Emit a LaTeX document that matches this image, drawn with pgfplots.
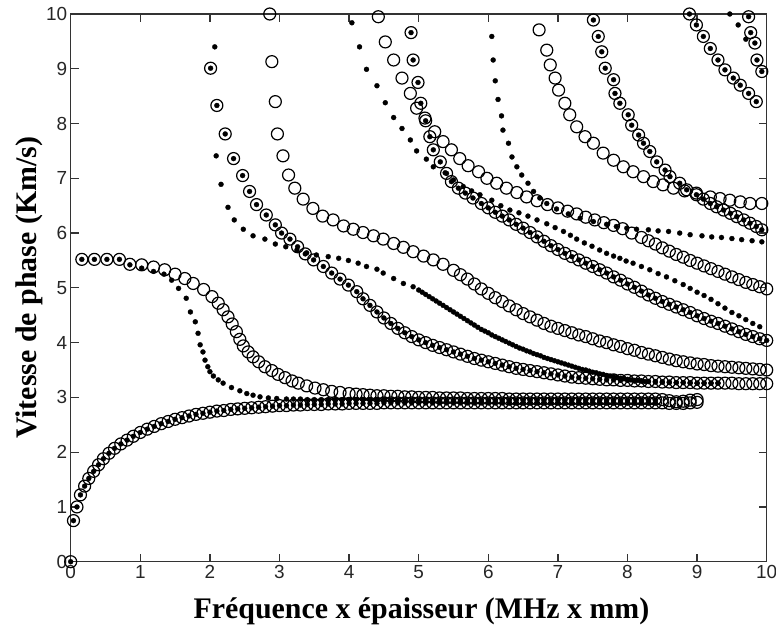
\documentclass[border=0pt]{standalone}
\usepackage{pgfplots}
\pgfplotsset{compat=1.18}
\usepackage{pgfplotstable}
\usepackage{fontspec}
\setmainfont{Liberation Serif}
\newfontfamily\ticksf{Liberation Sans}
\usetikzlibrary{calc}

% A0 (circles to 9.0, dots to 8.4)
\pgfplotstableread{
x y
0 0
0.04 0.75
0.09 1.00
0.14 1.22
0.20 1.38
0.26 1.52
0.33 1.65
0.40 1.77
0.47 1.88
0.55 1.98
0.63 2.07
0.72 2.15
0.81 2.22
0.90 2.29
1.00 2.36
1.10 2.42
1.20 2.47
1.30 2.52
1.40 2.56
1.50 2.60
1.60 2.63
1.70 2.66
1.80 2.69
1.90 2.71
2.00 2.73
2.10 2.75
2.20 2.76
2.30 2.78
2.40 2.79
2.50 2.80
2.60 2.81
2.70 2.82
2.80 2.83
2.90 2.84
3.00 2.85
3.10 2.85
3.20 2.86
3.30 2.86
3.40 2.87
3.50 2.87
3.60 2.87
3.70 2.88
3.80 2.88
3.90 2.88
4.00 2.89
4.10 2.89
4.20 2.89
4.30 2.89
4.40 2.89
4.50 2.90
4.60 2.90
4.70 2.90
4.80 2.90
4.90 2.90
5.00 2.90
5.10 2.90
5.20 2.90
5.30 2.90
5.40 2.90
5.50 2.90
5.60 2.90
5.70 2.90
5.80 2.90
5.90 2.90
6.00 2.90
6.10 2.90
6.20 2.90
6.30 2.90
6.40 2.90
6.50 2.90
6.60 2.90
6.70 2.90
6.80 2.90
6.90 2.90
7.00 2.90
7.10 2.90
7.20 2.90
7.30 2.90
7.40 2.90
7.50 2.90
7.60 2.90
7.70 2.90
7.80 2.90
7.90 2.90
8.00 2.90
8.10 2.90
8.20 2.90
8.30 2.90
8.40 2.90
}\AzeroD
\pgfplotstableread{
x y
8.50 2.90
8.60 2.89
8.70 2.89
8.80 2.89
8.90 2.90
9.00 2.91
}\AzeroC

% S0 circles
\pgfplotstableread{
x y
0.16 5.52
0.34 5.52
0.52 5.52
0.70 5.52
0.85 5.43
1.02 5.42
1.19 5.38
1.35 5.33
1.50 5.25
1.64 5.17
1.76 5.08
1.91 4.97
2.03 4.84
2.12 4.72
2.19 4.60
2.26 4.47
2.32 4.34
2.38 4.20
2.43 4.06
2.48 3.94
2.55 3.83
2.62 3.74
2.70 3.65
2.79 3.56
2.89 3.49
2.98 3.42
3.08 3.36
3.18 3.30
3.27 3.26
3.39 3.21
3.51 3.17
3.63 3.14
3.75 3.11
3.87 3.09
4.00 3.07
4.10 3.06
4.20 3.05
4.30 3.04
4.40 3.03
4.50 3.03
4.60 3.02
4.70 3.02
4.80 3.01
4.90 3.01
5.00 3.00
5.10 3.00
5.20 3.00
5.30 2.99
5.40 2.99
5.50 2.99
5.60 2.99
5.70 2.98
5.80 2.98
5.90 2.98
6.00 2.98
6.10 2.98
6.20 2.98
6.30 2.97
6.40 2.97
6.50 2.97
6.60 2.97
6.70 2.97
6.80 2.97
6.90 2.97
7.00 2.97
7.10 2.97
7.20 2.97
7.30 2.97
7.40 2.97
7.50 2.97
7.60 2.97
7.70 2.97
7.80 2.97
7.90 2.97
8.00 2.97
8.10 2.97
8.20 2.97
8.30 2.97
8.40 2.97
8.50 2.96
8.60 2.94
8.70 2.92
8.80 2.93
8.90 2.95
9.00 2.96
}\SzeroC

% S0 dots
\pgfplotstableread{
x y
0.16 5.52
0.34 5.52
0.52 5.52
0.70 5.52
0.85 5.42
1.02 5.36
1.19 5.30
1.34 5.25
1.45 5.14
1.55 4.99
1.66 4.81
1.72 4.56
1.79 4.38
1.83 4.17
1.86 3.96
1.90 3.83
1.93 3.68
1.97 3.56
2.00 3.47
2.05 3.39
2.12 3.32
2.19 3.26
2.31 3.18
2.43 3.12
2.53 3.07
2.62 3.04
2.72 3.01
2.84 2.99
2.96 2.98
3.10 2.97
3.20 2.97
3.30 2.97
3.40 2.96
3.50 2.96
3.60 2.96
3.70 2.96
3.80 2.96
3.90 2.96
4.00 2.96
4.10 2.96
4.20 2.96
4.30 2.96
4.40 2.96
4.50 2.96
4.60 2.95
4.70 2.95
4.80 2.95
4.90 2.95
5.00 2.95
5.10 2.95
5.20 2.95
5.30 2.95
5.40 2.95
5.50 2.95
5.60 2.95
5.70 2.95
5.80 2.95
5.90 2.95
6.00 2.95
6.10 2.95
6.20 2.95
6.30 2.95
6.40 2.95
6.50 2.95
6.60 2.95
6.70 2.95
6.80 2.95
6.90 2.95
7.00 2.95
7.10 2.95
7.20 2.95
7.30 2.95
7.40 2.95
7.50 2.95
7.60 2.95
7.70 2.95
7.80 2.95
7.90 2.95
8.00 2.95
8.10 2.95
8.20 2.95
8.30 2.95
8.40 2.95
}\SzeroD

% A1 (circles and dots), dots to 9.3
\pgfplotstableread{
x y
2.01 9.01
2.10 8.33
2.22 7.81
2.34 7.36
2.47 7.05
2.57 6.76
2.67 6.52
2.81 6.33
2.94 6.15
3.03 6.00
3.15 5.89
3.26 5.75
3.37 5.62
3.49 5.51
3.63 5.39
3.75 5.27
3.87 5.16
3.99 5.05
4.11 4.93
4.20 4.80
4.30 4.68
4.40 4.56
4.50 4.45
4.60 4.35
4.70 4.26
4.80 4.18
4.90 4.11
5.00 4.05
5.10 4.00
5.20 3.95
5.30 3.91
5.40 3.87
5.50 3.83
5.60 3.79
5.70 3.75
5.80 3.71
5.90 3.68
6.00 3.65
6.10 3.62
6.20 3.59
6.30 3.56
6.40 3.53
6.50 3.51
6.60 3.49
6.70 3.47
6.80 3.45
6.90 3.43
7.00 3.41
7.10 3.39
7.20 3.37
7.30 3.36
7.40 3.35
7.50 3.34
7.60 3.33
7.70 3.32
7.80 3.32
7.90 3.31
8.00 3.31
8.10 3.30
8.20 3.30
8.30 3.29
8.40 3.29
8.50 3.28
8.60 3.28
8.70 3.27
8.80 3.27
8.90 3.27
9.00 3.26
9.10 3.26
9.20 3.26
9.30 3.26
}\AoneD
\pgfplotstableread{
x y
9.40 3.26
9.50 3.26
9.60 3.25
9.70 3.25
9.80 3.25
9.90 3.25
10.00 3.25
}\AoneC

% S1 dots
\pgfplotstableread{
x y
2.07 9.40
2.09 7.41
2.16 6.89
2.26 6.47
2.35 6.24
2.48 6.07
2.62 5.95
2.79 5.89
2.94 5.80
3.09 5.75
3.25 5.69
3.39 5.64
3.53 5.60
3.70 5.57
3.85 5.54
3.99 5.50
4.13 5.45
4.25 5.39
4.40 5.34
4.49 5.27
4.64 5.17
4.78 5.08
4.92 5.02
5.00 4.96
5.05 4.92
5.10 4.88
5.15 4.84
5.20 4.80
5.25 4.76
5.30 4.72
5.35 4.68
5.40 4.64
5.45 4.60
5.50 4.56
5.55 4.52
5.60 4.48
5.65 4.44
5.70 4.40
5.75 4.36
5.80 4.32
5.85 4.28
5.90 4.24
5.95 4.21
6.00 4.18
6.05 4.14
6.10 4.11
6.15 4.08
6.20 4.05
6.25 4.02
6.30 3.99
6.35 3.96
6.40 3.93
6.45 3.90
6.50 3.88
6.55 3.85
6.60 3.83
6.65 3.80
6.70 3.78
6.75 3.76
6.80 3.73
6.85 3.71
6.90 3.69
6.95 3.67
7.00 3.65
7.05 3.63
7.10 3.61
7.15 3.59
7.20 3.57
7.25 3.55
7.30 3.53
7.35 3.51
7.40 3.50
7.45 3.48
7.50 3.46
7.55 3.45
7.60 3.43
7.65 3.42
7.70 3.40
7.75 3.39
7.80 3.38
7.85 3.36
7.90 3.35
7.95 3.34
8.00 3.33
8.05 3.32
8.10 3.31
8.15 3.31
8.20 3.30
8.25 3.29
8.30 3.29
8.40 3.28
8.50 3.28
8.60 3.27
8.70 3.27
8.80 3.27
8.90 3.26
9.00 3.26
9.10 3.26
9.20 3.26
9.30 3.26
}\SoneD

% circles from (2.86,10) to (10,3.5)
\pgfplotstableread{
x y
2.86 10.00
2.89 9.13
2.94 8.40
2.97 7.81
3.05 7.41
3.13 7.06
3.22 6.82
3.34 6.62
3.48 6.45
3.62 6.31
3.77 6.24
3.92 6.13
4.06 6.07
4.20 6.01
4.35 5.95
4.49 5.89
4.64 5.81
4.78 5.74
4.92 5.66
5.07 5.58
5.21 5.51
5.35 5.43
5.50 5.32
5.60 5.24
5.70 5.16
5.80 5.07
5.90 4.98
6.00 4.90
6.10 4.82
6.20 4.75
6.30 4.67
6.40 4.60
6.50 4.53
6.60 4.47
6.70 4.41
6.80 4.35
6.90 4.30
7.00 4.26
7.10 4.22
7.20 4.18
7.30 4.14
7.40 4.11
7.50 4.07
7.60 4.03
7.70 4.00
7.80 3.96
7.90 3.93
8.00 3.89
8.10 3.86
8.20 3.82
8.30 3.79
8.40 3.76
8.50 3.73
8.60 3.70
8.70 3.67
8.80 3.65
8.90 3.63
9.00 3.61
9.10 3.60
9.20 3.58
9.30 3.57
9.40 3.56
9.50 3.55
9.60 3.54
9.70 3.53
9.80 3.52
9.90 3.51
10.00 3.50
}\SoneC

% circles from (4.42,9.95) to (10,4.98)
\pgfplotstableread{
x y
4.42 9.95
4.52 9.49
4.64 9.16
4.76 8.83
4.88 8.55
4.97 8.28
5.09 8.10
5.23 7.85
5.35 7.67
5.47 7.52
5.59 7.36
5.71 7.23
5.86 7.12
5.98 7.00
6.12 6.91
6.26 6.82
6.41 6.74
6.55 6.66
6.70 6.59
6.85 6.52
7.00 6.46
7.14 6.40
7.27 6.35
7.40 6.29
7.53 6.24
7.66 6.19
7.80 6.14
7.93 6.08
8.06 6.00
8.20 5.92
8.30 5.86
8.40 5.80
8.50 5.73
8.60 5.67
8.70 5.61
8.80 5.56
8.90 5.50
9.00 5.45
9.10 5.40
9.20 5.35
9.30 5.30
9.40 5.25
9.50 5.20
9.60 5.15
9.70 5.10
9.80 5.06
9.90 5.02
10.00 4.98
}\StwoC

% dots from (6.05,9.59) to (10,5.84)
\pgfplotstableread{
x y
6.05 9.59
6.07 9.16
6.10 8.78
6.14 8.44
6.19 8.14
6.21 7.88
6.29 7.64
6.34 7.39
6.41 7.21
6.48 7.06
6.57 6.91
6.65 6.76
6.74 6.64
6.84 6.54
6.98 6.44
7.15 6.35
7.32 6.27
7.51 6.21
7.70 6.16
7.84 6.12
7.99 6.09
8.13 6.07
8.30 6.06
8.44 6.04
8.59 6.03
8.75 6.00
8.90 5.97
9.07 5.95
9.21 5.93
9.35 5.92
9.50 5.90
9.64 5.88
9.79 5.86
9.93 5.84
}\SixD

% dots from (4.04,9.84) to (10,4.29)
\pgfplotstableread{
x y
4.04 9.84
4.15 9.40
4.25 8.99
4.40 8.69
4.52 8.38
4.64 8.11
4.76 7.91
4.88 7.70
4.97 7.50
5.11 7.35
5.21 7.21
5.38 7.10
5.50 6.97
5.64 6.85
5.76 6.77
5.88 6.70
6.05 6.60
6.18 6.50
6.31 6.42
6.44 6.37
6.57 6.31
6.70 6.24
6.84 6.17
6.96 6.10
7.08 6.03
7.18 5.96
7.27 5.89
7.38 5.82
7.49 5.76
7.60 5.69
7.70 5.63
7.80 5.58
7.89 5.54
7.98 5.49
8.08 5.45
8.20 5.39
8.32 5.33
8.44 5.26
8.56 5.20
8.68 5.13
8.80 5.06
8.90 4.99
9.00 4.92
9.10 4.86
9.20 4.79
9.30 4.71
9.40 4.63
9.50 4.55
9.60 4.49
9.70 4.42
9.80 4.35
9.90 4.29
}\FourD

% circles and dots from (4.89,9.66) to (10,4.04)
\pgfplotstableread{
x y
4.89 9.66
4.92 9.16
4.99 8.75
5.03 8.37
5.10 8.05
5.16 7.76
5.21 7.52
5.31 7.30
5.40 7.09
5.47 6.94
5.57 6.82
5.67 6.73
5.78 6.64
5.90 6.54
6.00 6.46
6.10 6.38
6.20 6.31
6.30 6.24
6.40 6.16
6.50 6.09
6.60 6.01
6.70 5.93
6.80 5.85
6.90 5.77
7.00 5.70
7.10 5.63
7.20 5.57
7.30 5.51
7.40 5.45
7.50 5.39
7.60 5.33
7.70 5.27
7.80 5.20
7.90 5.14
8.00 5.07
8.10 5.01
8.20 4.94
8.30 4.87
8.40 4.81
8.50 4.75
8.60 4.70
8.70 4.65
8.80 4.60
8.90 4.55
9.00 4.49
9.10 4.44
9.20 4.39
9.30 4.35
9.40 4.30
9.50 4.25
9.60 4.20
9.70 4.15
9.80 4.11
9.90 4.07
10.00 4.04
}\ThreeCD

% circles from (6.73,9.71) to (10,6.54)
\pgfplotstableread{
x y
6.73 9.71
6.84 9.34
6.89 9.07
6.96 8.83
7.01 8.61
7.10 8.37
7.17 8.16
7.27 7.94
7.39 7.76
7.51 7.64
7.65 7.46
7.80 7.33
7.94 7.21
8.08 7.12
8.23 7.03
8.37 6.94
8.51 6.88
8.66 6.82
8.82 6.77
8.99 6.73
9.19 6.66
9.33 6.63
9.47 6.60
9.62 6.57
9.76 6.54
9.93 6.54
}\SixC

% circles and dots from (7.51,9.89) to (10,6.06)
\pgfplotstableread{
x y
7.51 9.89
7.58 9.59
7.63 9.31
7.68 9.01
7.80 8.80
7.82 8.55
7.89 8.37
8.01 8.16
8.06 7.97
8.16 7.79
8.23 7.64
8.32 7.49
8.42 7.30
8.54 7.15
8.61 7.03
8.75 6.91
8.85 6.79
8.99 6.70
9.09 6.62
9.19 6.54
9.28 6.48
9.38 6.42
9.48 6.36
9.57 6.30
9.67 6.24
9.76 6.18
9.85 6.12
9.93 6.06
}\FiveCD

% circles and dots from (8.89,10) to (9.85,8.40)
\pgfplotstableread{
x y
8.89 10.00
8.99 9.80
9.09 9.59
9.19 9.37
9.30 9.16
9.40 8.98
9.52 8.83
9.62 8.70
9.74 8.55
9.85 8.40
}\SevenCD

% near-vertical curves at the right edge
\pgfplotstableread{
x y
9.74 9.95
9.77 9.66
9.83 9.47
9.86 9.16
9.93 8.95
}\EightCD
\pgfplotstableread{
x y
9.47 10.00
9.59 9.80
9.70 9.54
}\EightD

\pgfplotsset{
  C/.style={only marks, mark=o, mark size=6bp, mark options={line width=1.2bp, draw=black}},
  D/.style={only marks, mark=*, mark size=2.5bp, mark options={fill=black, draw=black, line width=0.3bp}},
}

\begin{document}
\begin{tikzpicture}
\begin{axis}[
  scale only axis,
  width=696bp, height=547.7bp,
  xmin=0, xmax=10, ymin=0, ymax=10,
  xtick={0,1,...,10}, ytick={0,1,...,10},
  tick pos=both, tick align=inside,
  major tick length=8bp,
  axis line style={line width=1.3bp, draw=black!80},
  every tick/.style={line width=1.3bp, black!80},
  /pgf/number format/assume math mode=true,
  ticklabel style={font=\ticksf\fontsize{19}{19}\selectfont, text=black!85},
  clip=false,
  xlabel={Fréquence x épaisseur (MHz x mm)},
  ylabel={Vitesse de phase (Km/s)},
  every axis x label/.style={at={(axis description cs:0.504,-0.0909)}, anchor=center, font=\bfseries\fontsize{30}{32}\selectfont},
  every axis y label/.style={at={(axis description cs:-0.0592,0.5)}, anchor=center, rotate=90, font=\bfseries\fontsize{30}{32}\selectfont},
]
\coordinate (bl) at (rel axis cs:0,0);
\coordinate (tr) at (rel axis cs:1,1);
% circles
\addplot[C] table {\AzeroD};
\addplot[C] table {\AzeroC};
\addplot[C] table {\SzeroC};
\addplot[C] table {\AoneD};
\addplot[C] table {\AoneC};
\addplot[C] table {\SoneC};
\addplot[C] table {\StwoC};
\addplot[C] table {\ThreeCD};
\addplot[C] table {\SixC};
\addplot[C] table {\FiveCD};
\addplot[C] table {\SevenCD};
\addplot[C] table {\EightCD};
% dots
\addplot[D] table {\AzeroD};
\addplot[D] table {\SzeroD};
\addplot[D] table {\AoneD};
\addplot[D] table {\SoneD};
\addplot[D] table {\SixD};
\addplot[D] table {\FourD};
\addplot[D] table {\ThreeCD};
\addplot[D] table {\FiveCD};
\addplot[D] table {\SevenCD};
\addplot[D] table {\EightCD};
\addplot[D] table {\EightD};
\end{axis}
\pgfresetboundingbox
\path ($(bl)+(-70.7bp,-71.3bp)$) rectangle ($(tr)+(9.3bp,14bp)$);
\end{tikzpicture}
\end{document}
